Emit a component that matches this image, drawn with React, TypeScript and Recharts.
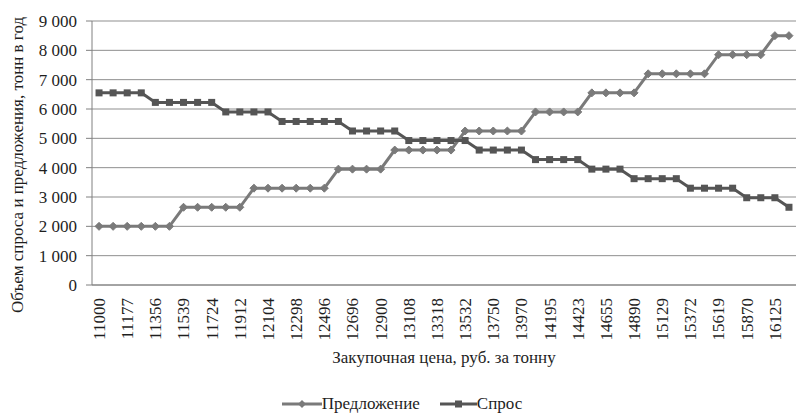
import React from "react";
import { LineChart, Line, XAxis, YAxis, CartesianGrid, Legend } from "recharts";

const prices = [
  "11000", "11088", "11177", "11266", "11356", "11447", "11539", "11631", "11724", "11818",
  "11912", "12008", "12104", "12201", "12298", "12397", "12496", "12596", "12696", "12798",
  "12900", "13004", "13108", "13213", "13318", "13425", "13532", "13641", "13750", "13860",
  "13970", "14082", "14195", "14309", "14423", "14539", "14655", "14772", "14890", "15009",
  "15129", "15250", "15372", "15495", "15619", "15744", "15870", "15997", "16125", "16254",
];

const supply = [
  2000, 2000, 2000, 2000, 2000, 2000,
  2650, 2650, 2650, 2650, 2650,
  3300, 3300, 3300, 3300, 3300, 3300,
  3950, 3950, 3950, 3950,
  4600, 4600, 4600, 4600, 4600,
  5250, 5250, 5250, 5250, 5250,
  5900, 5900, 5900, 5900,
  6550, 6550, 6550, 6550,
  7200, 7200, 7200, 7200, 7200,
  7850, 7850, 7850, 7850,
  8500, 8500,
];

const demand = [
  6550, 6550, 6550, 6550,
  6225, 6225, 6225, 6225, 6225,
  5900, 5900, 5900, 5900,
  5575, 5575, 5575, 5575, 5575,
  5250, 5250, 5250, 5250,
  4925, 4925, 4925, 4925, 4925,
  4600, 4600, 4600, 4600,
  4275, 4275, 4275, 4275,
  3950, 3950, 3950,
  3625, 3625, 3625, 3625,
  3300, 3300, 3300, 3300,
  2975, 2975, 2975,
  2650,
];

const yTicks = [0, 1000, 2000, 3000, 4000, 5000, 6000, 7000, 8000, 9000];

const data = prices.map((p, i) => ({ price: p, supply: supply[i], demand: demand[i] }));

const FONT = "Liberation Serif";
const SUPPLY_COLOR = "#7a7a7a";
const DEMAND_COLOR = "#555555";
const TEXT = "#1e1e1e";

const fmt = (v: number) => {
  const s = String(v);
  return s.length > 3 ? s.slice(0, s.length - 3) + "\u00a0" + s.slice(s.length - 3) : s;
};

const Diamond = (props: any) => {
  const { cx, cy } = props;
  if (cx == null || cy == null) return null;
  const r = 4;
  return (
    <path
      d={`M${cx},${cy - r}L${cx + r},${cy}L${cx},${cy + r}L${cx - r},${cy}Z`}
      fill={SUPPLY_COLOR}
      stroke={SUPPLY_COLOR}
      strokeWidth={1}
    />
  );
};

const Square = (props: any) => {
  const { cx, cy } = props;
  if (cx == null || cy == null) return null;
  const r = 3.5;
  return <rect x={cx - r} y={cy - r} width={2 * r} height={2 * r} fill={DEMAND_COLOR} />;
};

const XTick = (props: any) => {
  const { x, y, payload } = props;
  return (
    <text
      x={x}
      y={y}
      transform={`rotate(-90 ${x} ${y})`}
      textAnchor="end"
      dy="0.35em"
      style={{ fontFamily: FONT, fontSize: 17 }}
      fill={TEXT}
    >
      {payload.value}
    </text>
  );
};

const YTick = (props: any) => {
  const { x, y, payload } = props;
  return (
    <text
      x={x}
      y={y}
      textAnchor="end"
      dy="0.35em"
      style={{ fontFamily: FONT, fontSize: 17 }}
      fill={TEXT}
    >
      {fmt(payload.value)}
    </text>
  );
};

const LegendContent = () => (
  <div
    style={{
      display: "flex",
      justifyContent: "center",
      alignItems: "center",
      fontFamily: FONT,
      fontSize: 17,
      color: TEXT,
      height: 30,
      paddingLeft: 8,
    }}
  >
    <span style={{ display: "flex", alignItems: "center", marginRight: 20 }}>
      <svg width={40} height={10}>
        <line x1={0} y1={5} x2={40} y2={5} stroke={SUPPLY_COLOR} strokeWidth={3} />
        <path d="M20,1L24,5L20,9L16,5Z" fill={SUPPLY_COLOR} />
      </svg>
      <span>Предложение</span>
    </span>
    <span style={{ display: "flex", alignItems: "center" }}>
      <svg width={37} height={10}>
        <line x1={0} y1={5} x2={37} y2={5} stroke={DEMAND_COLOR} strokeWidth={3} />
        <rect x={15} y={1.5} width={7} height={7} fill={DEMAND_COLOR} />
      </svg>
      <span>Спрос</span>
    </span>
  </div>
);

export default function App() {
  return (
    <div style={{ position: "absolute", left: 0, top: 0, background: "#fff", fontFamily: FONT }}>
      <LineChart
        width={796}
        height={419}
        data={data}
        margin={{ top: 21, right: 0, left: 0, bottom: 0 }}
      >
        <CartesianGrid vertical={false} stroke="#8f8f8f" strokeWidth={1} />
        <XAxis
          dataKey="price"
          scale="band"
          interval={1}
          height={104}
          tickLine={false}
          tickSize={0}
          tickMargin={13}
          axisLine={{ stroke: "#808080" }}
          tick={<XTick />}
          label={{
            content: (p: any) => {
              const vb = p.viewBox || {};
              return (
                <text
                  x={vb.x + vb.width / 2}
                  y={vb.y + 78}
                  textAnchor="middle"
                  style={{ fontFamily: FONT, fontSize: 17 }}
                  fill={TEXT}
                >
                  Закупочная цена, руб. за тонну
                </text>
              );
            },
          }}
        />
        <YAxis
          width={92}
          domain={[0, 9000]}
          ticks={yTicks}
          interval={0}
          tickSize={6}
          tickMargin={9}
          tickLine={{ stroke: "#808080" }}
          axisLine={{ stroke: "#808080" }}
          tick={<YTick />}
          label={{
            content: (p: any) => {
              const vb = p.viewBox || {};
              const cx = 17;
              const cy = vb.y + vb.height / 2 + 12;
              return (
                <text
                  x={cx}
                  y={cy}
                  transform={`rotate(-90 ${cx} ${cy})`}
                  textAnchor="middle"
                  dy="0.35em"
                  style={{ fontFamily: FONT, fontSize: 17 }}
                  fill={TEXT}
                >
                  Объем спроса и предложения, тонн в год
                </text>
              );
            },
          }}
        />
        <Legend verticalAlign="bottom" height={30} content={<LegendContent />} />
        <Line
          type="linear"
          dataKey="supply"
          name="Предложение"
          stroke={SUPPLY_COLOR}
          strokeWidth={3}
          dot={<Diamond />}
          activeDot={false}
          isAnimationActive={false}
        />
        <Line
          type="linear"
          dataKey="demand"
          name="Спрос"
          stroke={DEMAND_COLOR}
          strokeWidth={3}
          dot={<Square />}
          activeDot={false}
          isAnimationActive={false}
        />
      </LineChart>
    </div>
  );
}
